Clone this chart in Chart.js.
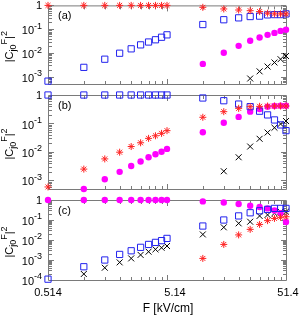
<!DOCTYPE html>
<html>
<head>
<meta charset="utf-8">
<script src="https://cdn.jsdelivr.net/npm/chart.js@4"></script>
<style>
  html, body { margin: 0; padding: 0; background: #fff; }
  #wrap { position: relative; width: 299px; height: 317px; }
  #wrap canvas { position: absolute; left: 0; top: 0; }
</style>
</head>
<body>
<div id="wrap">
  <canvas id="pa" width="299" height="317"></canvas>
  <canvas id="pb" width="299" height="317"></canvas>
  <canvas id="pc" width="299" height="317"></canvas>
</div>
<script>
// field values (kV/cm) shared by all three panels
const fieldF = [0.514, 1.028, 1.542, 2.056, 2.57, 3.084, 3.598, 4.112, 4.626, 5.14,
                10.28, 15.42, 20.56, 25.7, 30.84, 35.98, 41.12, 46.26, 51.4];
const xMajorTicks = [0.514, 5.14, 51.4];
const xTickLabels = ['0.514', '5.14', '51.4'];

// panel (a)
const aRed     = [1, 1, 1, 1, 1, 1, 1, 1, 1, 1, 0.83, 0.71, 0.64, 0.6, 0.55, 0.47, 0.44, 0.44, 0.44];
const aBlue    = [6.6e-4, 2.5e-3, 5.5e-3, 9.8e-3, 0.015, 0.022, 0.029, 0.036, 0.046, 0.058,
                  0.157, 0.25, 0.30, 0.34, 0.355, 0.40, 0.41, 0.41, 0.44];
const aMagenta = [null, null, null, null, null, null, null, null, null, null,
                  3.5e-3, 0.0103, 0.02, 0.033, 0.045, 0.058, 0.07, 0.085, 0.095];
const aBlack   = [null, null, null, null, null, null, null, null, null, null,
                  null, null, null, 8.5e-4, 1.7e-3, 2.7e-3, 4e-3, 5.5e-3, 7.5e-3];

// panel (b)
const bRed     = [5.9e-4, 2.5e-3, 5.7e-3, 9.8e-3, 0.0155, 0.021, 0.03, 0.037, 0.045, 0.056,
                  0.165, 0.26, 0.34, 0.39, 0.40, 0.41, 0.41, 0.41, 0.41];
const bBlue    = [1, 1, 1, 1, 1, 1, 1, 1, 1, 1, 0.785, 0.63, 0.48, 0.39, 0.27, 0.2, 0.133, 0.089, 0.056];
const bMagenta = [null, 5e-4, 1.1e-3, 2e-3, 3.2e-3, 4.6e-3, 6.5e-3, 8.3e-3, 0.0102, 0.0128,
                  0.049, 0.106, 0.17, 0.26, 0.32, 0.39, 0.41, 0.42, 0.42];
const bBlack   = [null, null, null, null, null, null, null, null, null, null,
                  null, 2.1e-3, 6.5e-3, 0.0155, 0.029, 0.048, 0.071, 0.096, 0.122];

// panel (c)
const cRed     = [null, null, null, null, null, null, null, null, null, null,
                  1.2e-3, 6e-3, 0.018, 0.034, 0.06, 0.093, 0.12, 0.136, 0.146];
const cBlue    = [1.1e-4, 4.6e-4, 1e-3, 1.9e-3, 2.9e-3, 4.3e-3, 6e-3, 7.6e-3, 9.3e-3, 0.012,
                  0.05, 0.1, 0.16, 0.23, 0.29, 0.34, 0.38, 0.38, 0.38];
const cMagenta = [1, 1, 1, 1, 1, 1, 1, 1, 1, 1, 0.85, 0.75, 0.63, 0.52, 0.45, 0.38, 0.3, 0.22, 0.08];
const cBlack   = [null, 2e-4, 4.1e-4, 7.6e-4, 1.2e-3, 1.8e-3, 2.6e-3, 3.4e-3, 4.1e-3, 5e-3,
                  0.019, 0.043, 0.068, 0.082, 0.16, 0.18, 0.22, 0.26, 0.26];

const FONT = '"Liberation Sans", Arial, sans-serif';
const FRAME = '#7a7a7a';

// point looks, gnuplot-ish
const markers = {
  red:     { pointStyle: 'star',     pointRadius: 3.5, pointBorderColor: '#ff2222', pointBackgroundColor: 'rgba(0,0,0,0)', pointBorderWidth: 1 },
  blue:    { pointStyle: 'rect',     pointRadius: 4.4, pointBorderColor: '#2222ee', pointBackgroundColor: 'rgba(0,0,0,0)', pointBorderWidth: 1 },
  magenta: { pointStyle: 'circle',   pointRadius: 3.2, pointBorderColor: '#ff00ff', pointBackgroundColor: '#ff00ff', pointBorderWidth: 0 },
  black:   { pointStyle: 'crossRot', pointRadius: 4.2, pointBorderColor: '#000000', pointBackgroundColor: 'rgba(0,0,0,0)', pointBorderWidth: 1 }
};

function toPoints(vals) {
  return fieldF.map((f, i) => ({ x: f, y: vals[i] })).filter(p => p.y != null);
}

// frame, inward ticks and texts in gnuplot style
const gnuFrame = {
  id: 'gnuFrame',
  beforeDatasetsDraw(chart, args, opts) {
    const { ctx, chartArea: a, scales: { x, y } } = chart;
    ctx.save();
    ctx.strokeStyle = FRAME;
    ctx.lineWidth = 1;
    ctx.beginPath();
    ctx.rect(a.left + 0.5, a.top + 0.5, a.right - a.left, a.bottom - a.top);
    // x ticks, top and bottom
    fieldF.forEach(f => {
      const len = xMajorTicks.includes(f) ? 5 : 3;
      const px = Math.round(x.getPixelForValue(f)) + 0.5;
      ctx.moveTo(px, a.bottom); ctx.lineTo(px, a.bottom - len);
      ctx.moveTo(px, a.top + 1); ctx.lineTo(px, a.top + 1 + len);
    });
    // y ticks, left and right
    const lo = Math.floor(Math.log10(y.min) - 1e-9), hi = Math.round(Math.log10(y.max));
    for (let e = lo; e <= hi; e++) {
      for (let k = 1; k <= 9; k++) {
        const v = k * Math.pow(10, e);
        if (v < y.min * 0.999 || v > y.max * 1.001) continue;
        const len = k === 1 ? 5 : 3;
        const py = Math.round(y.getPixelForValue(v)) + 0.5;
        ctx.moveTo(a.left + 1, py); ctx.lineTo(a.left + 1 + len, py);
        ctx.moveTo(a.right, py); ctx.lineTo(a.right - len, py);
      }
    }
    ctx.stroke();

    // y tick labels
    ctx.fillStyle = '#000';
    ctx.textAlign = 'right';
    ctx.textBaseline = 'middle';
    for (let e = Math.ceil(Math.log10(y.min) - 1e-9); e <= hi; e++) {
      const py = y.getPixelForValue(Math.pow(10, e));
      const xr = a.left - 6;
      if (e === 0) {
        ctx.font = '11px ' + FONT;
        ctx.fillText('1', xr, py + 1);
      } else {
        const sup = '-' + (-e);
        ctx.font = '9px ' + FONT;
        const sw = ctx.measureText(sup).width;
        ctx.fillText(sup, xr, py - 3);
        ctx.font = '11px ' + FONT;
        ctx.fillText('10', xr - sw, py + 2);
      }
    }

    // panel tag
    ctx.textAlign = 'left';
    ctx.font = '11px ' + FONT;
    ctx.fillText(opts.tag, a.left + 10, a.top + 11);

    // x tick labels and title on the bottom panel
    if (opts.showX) {
      ctx.textAlign = 'center';
      xMajorTicks.forEach((f, i) => {
        const shift = i === 1 ? 8 : (i === 2 ? 2 : 0);
        ctx.fillText(xTickLabels[i], x.getPixelForValue(f) + shift, a.bottom + 13);
      });
      ctx.font = '12px ' + FONT;
      ctx.fillText('F [kV/cm]', (a.left + a.right) / 2 + 1, a.bottom + 29);
    }

    // rotated y title |C_{j0}^F|^2
    const parts = [
      { t: '|C', s: 11, dy: 0 },
      { t: 'j0', s: 9, dy: 3 },
      { t: 'F', s: 9, dy: -6 },
      { t: '|', s: 11, dy: 0 },
      { t: '2', s: 9, dy: -6 }
    ];
    let total = 0;
    parts.forEach(p => { ctx.font = p.s + 'px ' + FONT; p.w = ctx.measureText(p.t).width; total += p.w; });
    ctx.translate(13, (a.top + a.bottom) / 2 + 2);
    ctx.rotate(-Math.PI / 2);
    ctx.textAlign = 'left';
    ctx.textBaseline = 'alphabetic';
    let cx = -total / 2;
    parts.forEach(p => {
      ctx.font = p.s + 'px ' + FONT;
      ctx.fillText(p.t, cx, p.dy);
      cx += p.w;
    });
    ctx.restore();
  }
};

function makePanel(id, top, bottom, yMin, series, opts) {
  const order = ['red', 'blue', 'magenta', 'black'];
  return new Chart(document.getElementById(id), {
    type: 'scatter',
    data: {
      datasets: order.map(key => Object.assign({
        data: toPoints(series[key]),
        showLine: false,
        clip: false
      }, markers[key]))
    },
    options: {
      responsive: false,
      animation: false,
      events: [],
      layout: { padding: { left: 48, right: 13, top: top, bottom: 317 - bottom } },
      plugins: { legend: { display: false }, tooltip: { enabled: false }, gnuFrame: opts },
      scales: {
        x: { type: 'logarithmic', display: false, min: 0.514, max: 51.4 },
        y: { type: 'logarithmic', display: false, min: yMin, max: 1 }
      }
    },
    plugins: [gnuFrame]
  });
}

makePanel('pa', 3, 84, 5e-4, { red: aRed, blue: aBlue, magenta: aMagenta, black: aBlack }, { tag: '(a)', showX: false });
makePanel('pb', 95, 189, 5e-4, { red: bRed, blue: bBlue, magenta: bMagenta, black: bBlack }, { tag: '(b)', showX: false });
makePanel('pc', 200, 280, 1e-4, { red: cRed, blue: cBlue, magenta: cMagenta, black: cBlack }, { tag: '(c)', showX: true });
</script>
</body>
</html>
